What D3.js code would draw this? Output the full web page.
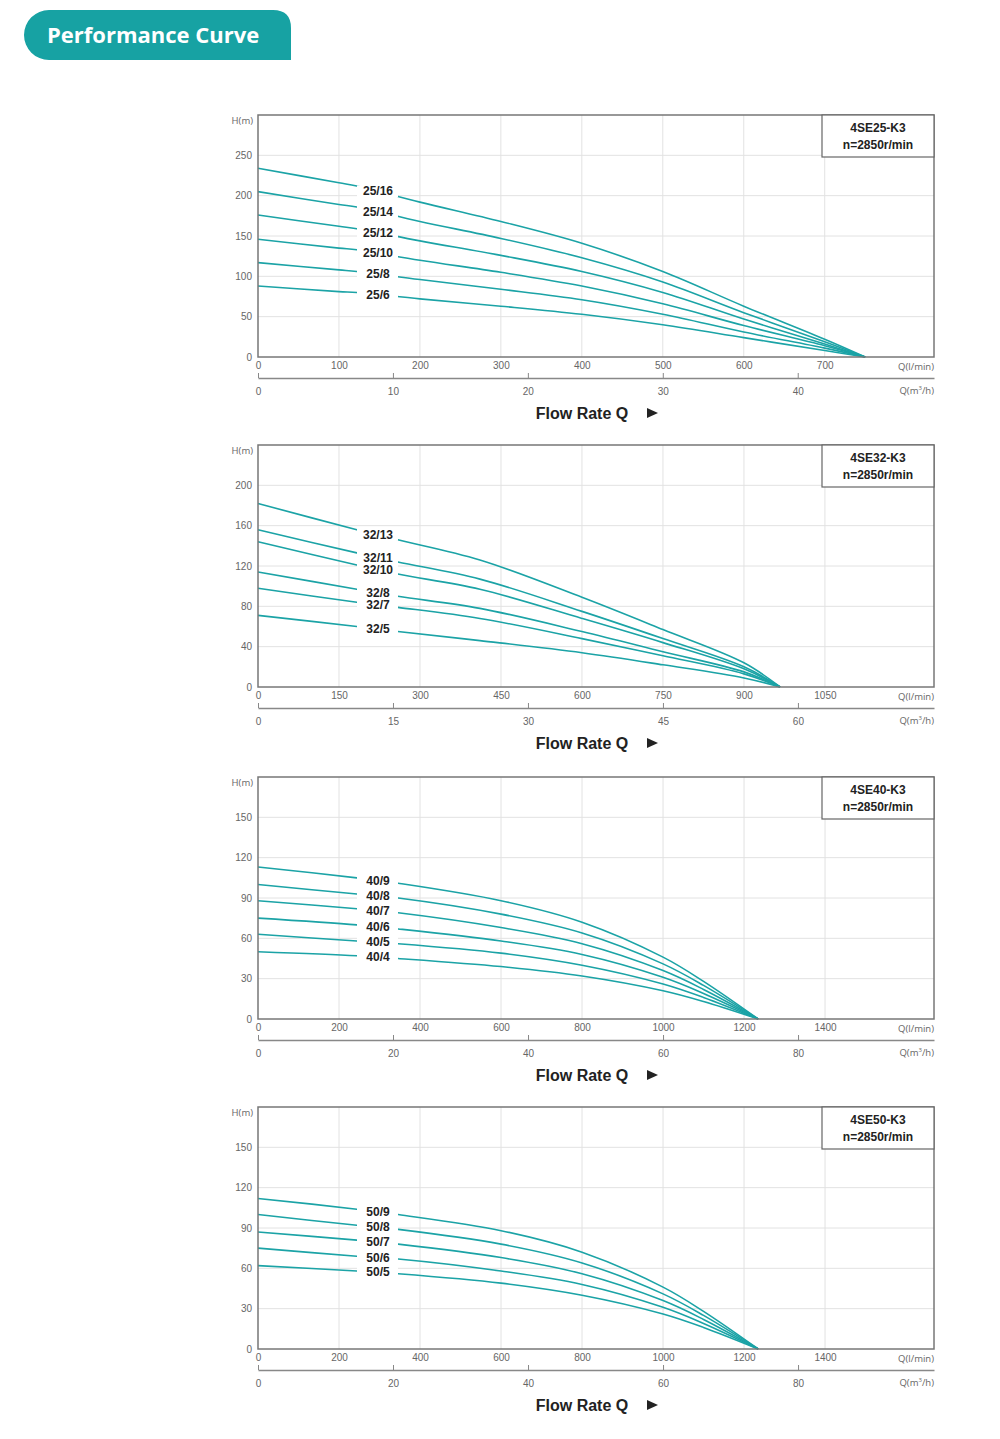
<!DOCTYPE html>
<meta charset="utf-8">
<style>
body { margin: 0; background: #fff; font-family: "Open Sans", Arial, sans-serif; }
.tick text { fill: #666; font-size: 10px; }
.grid line { stroke: #e2e2e2; }
.curve { fill: none; stroke: #1ba3a6; stroke-width: 1.6px; }
.lbl { font-size: 12px; font-weight: bold; fill: #222; text-anchor: middle; font-family: Arial, sans-serif; }
.unit { font-size: 9.5px; fill: #666; }
</style>
<body>
<script src="https://d3js.org/d3.v7.min.js"></script>
<script>

// flow points (l/min) and heads (m)
var q25 = [0, 100, 122, 200, 300, 400, 500, 600, 700, 750];
var h25 = {
  "25/16": [234, 216, 212, 192, 168, 141, 106, 63, 22, 0],
  "25/14": [205, 189, 186, 168, 147, 123, 93, 55, 19, 0],
  "25/12": [176, 162, 159, 144, 126, 106, 80, 47, 16, 0],
  "25/10": [146, 135, 133, 120, 105, 88, 66, 39, 14, 0],
  "25/8":  [117, 108, 106, 96, 84, 71, 53, 31, 11, 0],
  "25/6":  [88, 81, 80, 72, 63, 53, 40, 24, 8, 0]
};
var q32 = [0, 183, 259, 411, 600, 750, 900, 967];
var h32 = {
  "32/13": [182, 156, 146, 126, 89, 57, 24, 0],
  "32/11": [156, 133, 124, 107, 75, 48, 20, 0],
  "32/10": [144, 121, 112, 97, 68, 44, 18, 0],
  "32/8":  [114, 97, 90, 78, 55, 35, 15, 0],
  "32/7":  [98, 84, 79, 68, 48, 31, 13, 0],
  "32/5":  [71, 60, 55, 46, 34, 22, 9, 0]
};
var q40 = [0, 244, 346, 600, 800, 1000, 1100, 1235];
var h40 = {
  "40/9": [113, 105, 101, 88, 72, 46, 28, 0],
  "40/8": [100, 93, 90, 78, 64, 41, 25, 0],
  "40/7": [88, 82, 79, 68, 56, 36, 22, 0],
  "40/6": [75, 70, 67, 58, 48, 31, 19, 0],
  "40/5": [63, 58, 56, 49, 40, 26, 16, 0],
  "40/4": [50, 47, 45, 39, 32, 21, 13, 0]
};
var q50 = [0, 244, 346, 600, 800, 1000, 1100, 1235];
var h50 = {
  "50/9": [112, 104, 100, 88, 72, 46, 28, 0],
  "50/8": [100, 92, 89, 78, 64, 41, 25, 0],
  "50/7": [87, 81, 78, 68, 56, 36, 22, 0],
  "50/6": [75, 69, 67, 58, 48, 31, 19, 0],
  "50/5": [62, 58, 56, 49, 40, 26, 16, 0]
};

var panels = [
  {model: "4SE25-K3", top: 115, q: q25, h: h25, hMax: 300, hTicks: [0, 50, 100, 150, 200, 250],
   qMax: 835, qTicks: [0, 100, 200, 300, 400, 500, 600, 700], mTicks: [0, 10, 20, 30, 40], lblQ: 148},
  {model: "4SE32-K3", top: 445, q: q32, h: h32, hMax: 240, hTicks: [0, 40, 80, 120, 160, 200],
   qMax: 1252, qTicks: [0, 150, 300, 450, 600, 750, 900, 1050], mTicks: [0, 15, 30, 45, 60], lblQ: 222},
  {model: "4SE40-K3", top: 777, q: q40, h: h40, hMax: 180, hTicks: [0, 30, 60, 90, 120, 150],
   qMax: 1669, qTicks: [0, 200, 400, 600, 800, 1000, 1200, 1400], mTicks: [0, 20, 40, 60, 80], lblQ: 296},
  {model: "4SE50-K3", top: 1107, q: q50, h: h50, hMax: 180, hTicks: [0, 30, 60, 90, 120, 150],
   qMax: 1669, qTicks: [0, 200, 400, 600, 800, 1000, 1200, 1400], mTicks: [0, 20, 40, 60, 80], lblQ: 296}
];

var left = 258, right = 934, ph = 242;
var fmt = d3.format("d");

var svg = d3.select("body").append("svg")
    .attr("width", 1000)
    .attr("height", 1439);

// header tab
svg.append("path")
    .attr("d", "M49,10 H273 Q291,10 291,28 V60 H49 A25,25 0 0 1 49,10 Z")
    .attr("fill", "#17a2a3");
svg.append("text")
    .attr("x", 47).attr("y", 43)
    .attr("fill", "#fff")
    .style("font-size", "22px").style("font-weight", "bold")
    .style("font-family", "'Open Sans', sans-serif")
    .text("Performance Curve");

panels.forEach(function(p) {
  var g = svg.append("g").attr("transform", "translate(0," + p.top + ")");
  var x = d3.scaleLinear().domain([0, p.qMax]).range([left, right]);
  var y = d3.scaleLinear().domain([0, p.hMax]).range([ph, 0]);
  var xm = d3.scaleLinear().domain([0, p.qMax * 0.06]).range([left, right]);

  // grid
  g.append("g").attr("class", "grid")
    .selectAll("line").data(p.hTicks.slice(1)).join("line")
      .attr("x1", left).attr("x2", right)
      .attr("y1", d => y(d)).attr("y2", d => y(d));
  g.append("g").attr("class", "grid")
    .selectAll("line").data(p.qTicks.slice(1)).join("line")
      .attr("x1", d => x(d)).attr("x2", d => x(d))
      .attr("y1", 0).attr("y2", ph);

  // axes
  var ya = g.append("g").attr("transform", "translate(" + left + ",0)")
      .call(d3.axisLeft(y).tickValues(p.hTicks).tickFormat(fmt).tickSize(0).tickPadding(6));
  ya.select(".domain").remove();
  var xa = g.append("g").attr("transform", "translate(0," + ph + ")")
      .call(d3.axisBottom(x).tickValues(p.qTicks).tickFormat(fmt).tickSize(0).tickPadding(5));
  xa.select(".domain").remove();

  var ma = g.append("g").attr("transform", "translate(0," + (ph + 21) + ")")
      .call(d3.axisTop(xm).tickValues(p.mTicks).tickFormat(fmt).tickSize(5).tickSizeOuter(0));
  ma.select(".domain").attr("stroke", "#888").attr("stroke-width", 1.5);
  ma.selectAll(".tick line").attr("stroke", "#888");
  ma.selectAll(".tick text").attr("y", 14).attr("dy", "0.32em");

  g.append("text").attr("class", "unit").attr("x", 253).attr("y", 9).attr("text-anchor", "end").text("H(m)");
  g.append("text").attr("class", "unit").attr("x", right).attr("y", ph + 13).attr("text-anchor", "end").text("Q(l/min)");
  g.append("text").attr("class", "unit").attr("x", right).attr("y", ph + 37).attr("text-anchor", "end")
    .html("Q(m<tspan dy='-4' font-size='6'>3</tspan><tspan dy='4'>/h)</tspan>");

  // curves
  var line = d3.line().x(d => x(d[0])).y(d => y(d[1])).curve(d3.curveCatmullRom.alpha(0.5));
  Object.keys(p.h).forEach(function(name) {
    var pts = p.q.map((q, i) => [q, p.h[name][i]]);
    g.append("path").attr("class", "curve").attr("d", line(pts));
    var i = d3.bisectRight(p.q, p.lblQ) - 1;
    var t = (p.lblQ - p.q[i]) / (p.q[i + 1] - p.q[i]);
    var hv = pts[i][1] + t * (pts[i + 1][1] - pts[i][1]);
    g.append("rect").attr("x", 357).attr("y", y(hv) - 6).attr("width", 41).attr("height", 12).attr("fill", "#fff");
    g.append("text").attr("class", "lbl").attr("x", 378).attr("y", y(hv) + 4).text(name);
  });

  // frame
  g.append("rect").attr("x", left).attr("y", 0).attr("width", right - left).attr("height", ph)
    .attr("fill", "none").attr("stroke", "#777").attr("stroke-width", 1.5);

  // model box
  g.append("rect").attr("x", 822).attr("y", 0).attr("width", 112).attr("height", 42)
    .attr("fill", "#fff").attr("stroke", "#666").attr("stroke-width", 1.2);
  g.append("text").attr("class", "lbl").attr("x", 878).attr("y", 17).text(p.model);
  g.append("text").attr("class", "lbl").attr("x", 878).attr("y", 34).text("n=2850r/min");

  // flow rate caption
  g.append("text").attr("x", 582).attr("y", ph + 62).attr("text-anchor", "middle")
    .style("font-size", "16px").style("font-weight", "bold").style("font-family", "Arial, sans-serif")
    .attr("fill", "#222").text("Flow Rate Q");
  g.append("path").attr("d", "M647," + (ph + 51) + " l11,5 l-11,5 Z").attr("fill", "#222");
});
</script>
